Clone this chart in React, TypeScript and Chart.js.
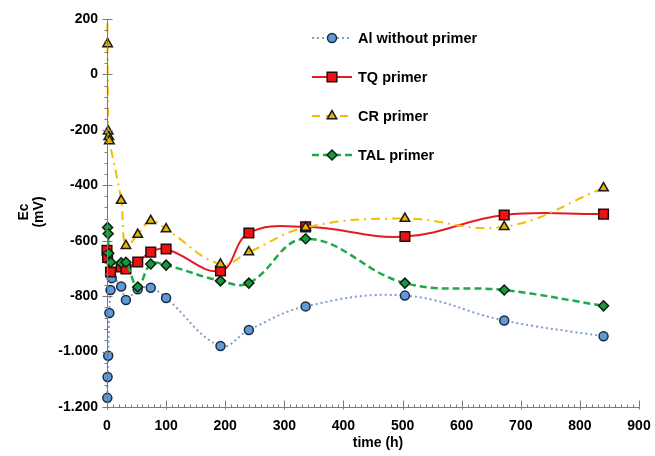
import React, { useEffect, useRef } from 'react';
import { Chart, registerables } from 'chart.js';
import { drawPoint } from 'chart.js/helpers';

Chart.register(...registerables);

// ---- data ----
const seriesLabels = ['Al without primer', 'TQ primer', 'CR primer', 'TAL primer'];

const alTimes = [0.5, 1, 2, 4, 6, 8, 24, 32, 52, 74, 100, 192, 240, 336, 504, 672, 840];
const alValues = [-1167, -1092, -1015, -861, -778, -735, -765, -814, -775, -770, -807, -980, -922, -837, -798, -888, -945];

const tqTimes = [0, 1, 6, 24, 32, 52, 74, 100, 192, 240, 336, 504, 672, 840];
const tqValues = [-635, -660, -713, -695, -702, -677, -641, -630, -709, -572, -550, -585, -507, -504];

const crTimes = [0, 1, 2, 3, 4, 24, 32, 52, 74, 100, 192, 240, 336, 504, 672, 840];
const crValues = [260, 110, -205, -225, -240, -455, -618, -578, -528, -558, -685, -641, -552, -520, -550, -410];

const talTimes = [1, 2, 3, 6, 24, 32, 52, 74, 100, 192, 240, 336, 504, 672, 840];
const talValues = [-552, -575, -645, -678, -680, -678, -767, -684, -688, -745, -753, -593, -753, -778, -835];

const xTitle = 'time (h)';
const yTitleLines = ['Ec', '(mV)'];
const xMin = 0, xMax = 900, xStep = 100, xMinorStep = 10;
const yMin = -1200, yMax = 200, yStep = 200, yMinorStep = 40;

const FONT = 'Arial, "Liberation Sans", sans-serif';

const fmt = (v: number) => {
  const s = Math.abs(v).toString().replace(/\B(?=(\d{3})+(?!\d))/g, '.');
  return (v < 0 ? '-' : '') + s;
};

const toPts = (ts: number[], vs: number[]) => ts.map((t, i) => ({ x: t, y: vs[i] }));

const decor = {
  id: 'decor',
  afterDraw(chart: any) {
    const { ctx, scales } = chart;
    const x = scales.x, y = scales.y;
    ctx.save();
    ctx.strokeStyle = '#7a7a7a';
    ctx.lineWidth = 1;
    const ax = Math.round(x.getPixelForValue(xMin)) + 0.5;
    const ay = Math.round(y.getPixelForValue(yMin)) + 0.5;
    const yTop = y.getPixelForValue(yMax);
    const xRight = x.getPixelForValue(xMax);
    ctx.beginPath();
    ctx.moveTo(ax, yTop);
    ctx.lineTo(ax, ay);
    ctx.moveTo(ax, ay);
    ctx.lineTo(xRight, ay);
    for (let v = yMin; v <= yMax; v += yMinorStep) {
      const py = Math.round(y.getPixelForValue(v)) + 0.5;
      const major = (v - yMin) % yStep === 0;
      ctx.moveTo(ax - (major ? 5 : 3), py);
      ctx.lineTo(ax + (major ? 5 : 0), py);
    }
    for (let t = xMin; t <= xMax; t += xMinorStep) {
      const px = Math.round(x.getPixelForValue(t)) + 0.5;
      const major = (t - xMin) % xStep === 0;
      ctx.moveTo(px, ay + (major ? 2 : 0));
      ctx.lineTo(px, ay - (major ? 7 : 3));
    }
    ctx.stroke();

    ctx.fillStyle = '#000';
    ctx.font = 'bold 14px ' + FONT;
    ctx.textAlign = 'center';
    ctx.textBaseline = 'middle';
    ctx.fillText(xTitle, 378, 443);
    ctx.save();
    ctx.translate(24, 212);
    ctx.rotate(-Math.PI / 2);
    ctx.fillText(yTitleLines[0], 0, 0);
    ctx.restore();
    ctx.save();
    ctx.translate(39, 212);
    ctx.rotate(-Math.PI / 2);
    ctx.fillText(yTitleLines[1], 0, 0);
    ctx.restore();

    const lx0 = 312, lx1 = 352, lmx = 332, ltx = 358;
    const lys = [38, 77, 116, 155];
    chart.data.datasets.forEach((ds: any, i: number) => {
      const ly = lys[i];
      ctx.save();
      ctx.strokeStyle = ds.borderColor;
      ctx.lineWidth = ds.borderWidth;
      ctx.setLineDash(ds.legendDash || ds.borderDash || []);
      ctx.beginPath();
      ctx.moveTo(lx0, ly);
      ctx.lineTo(lx1, ly);
      ctx.stroke();
      ctx.setLineDash([]);
      ctx.fillStyle = ds.pointBackgroundColor;
      ctx.strokeStyle = ds.pointBorderColor;
      ctx.lineWidth = ds.pointBorderWidth;
      drawPoint(ctx, { pointStyle: ds.pointStyle, rotation: 0, radius: ds.pointRadius, borderWidth: ds.pointBorderWidth }, lmx, ly);
      ctx.restore();
      ctx.fillStyle = '#000';
      ctx.font = 'bold 14.5px ' + FONT;
      ctx.textAlign = 'left';
      ctx.textBaseline = 'middle';
      ctx.fillText(ds.label, ltx, ly + 1);
    });
    ctx.restore();
  },
};

export default function App() {
  const ref = useRef<HTMLCanvasElement | null>(null);
  useEffect(() => {
    if (!ref.current) return;
    const clip = { left: 8, right: 8, top: 0, bottom: 8 };
    const chart = new Chart(ref.current, {
      type: 'line',
      data: {
        datasets: [
          {
            label: seriesLabels[0],
            data: toPts(alTimes, alValues),
            borderColor: '#7f9fc6',
            borderWidth: 2,
            borderDash: [2, 3],
            pointStyle: 'circle',
            pointRadius: 4.5,
            pointBackgroundColor: '#5f9ad6',
            pointBorderColor: '#1c2b45',
            pointBorderWidth: 1.5,
            tension: 0.4,
            order: 3,
            clip,
          } as any,
          {
            label: seriesLabels[1],
            data: toPts(tqTimes, tqValues),
            borderColor: '#e31b23',
            borderWidth: 2,
            borderDash: [],
            pointStyle: 'rect',
            pointRadius: 6.8,
            pointBackgroundColor: '#ee1111',
            pointBorderColor: '#2a0a0a',
            pointBorderWidth: 1.5,
            tension: 0.4,
            order: 2,
            clip,
          },
          {
            label: seriesLabels[2],
            data: toPts(crTimes, crValues),
            borderColor: '#f2bf00',
            borderWidth: 2,
            borderDash: [9, 5, 2, 5],
            legendDash: [8, 6],
            pointStyle: 'triangle',
            pointRadius: 5.5,
            pointBackgroundColor: '#e8b400',
            pointBorderColor: '#1a1a1a',
            pointBorderWidth: 1.5,
            tension: 0.4,
            order: 1,
            clip,
          },
          {
            label: seriesLabels[3],
            data: toPts(talTimes, talValues),
            borderColor: '#1fa84c',
            borderWidth: 2.5,
            borderDash: [7, 4],
            pointStyle: 'rectRot',
            pointRadius: 5,
            pointBackgroundColor: '#159a3c',
            pointBorderColor: '#0f1f12',
            pointBorderWidth: 1.5,
            tension: 0.4,
            order: 0,
            clip,
          },
        ],
      },
      options: {
        animation: false,
        responsive: true,
        maintainAspectRatio: false,
        layout: { padding: { top: 19, right: 16, bottom: 0, left: 0 } },
        plugins: { legend: { display: false }, tooltip: { enabled: false } },
        scales: {
          x: {
            type: 'linear',
            min: xMin,
            max: xMax,
            grid: { display: false, drawTicks: false },
            border: { display: false },
            ticks: { stepSize: xStep, padding: 11, color: '#000', font: { family: FONT, size: 14, weight: 'bold' }, maxRotation: 0 },
            afterFit: (s: any) => { s.height = 49; s.paddingLeft = 0; s.paddingRight = 0; },
          },
          y: {
            type: 'linear',
            min: yMin,
            max: yMax,
            grid: { display: false, drawTicks: false },
            border: { display: false },
            ticks: { stepSize: yStep, padding: 9, color: '#000', font: { family: FONT, size: 14, weight: 'bold' }, callback: (v: any) => fmt(Number(v)) },
            afterFit: (s: any) => { s.width = 107; s.paddingTop = 0; s.paddingBottom = 0; },
          },
        },
      },
      plugins: [decor],
    } as any);
    return () => chart.destroy();
  }, []);
  return (
    <div style={{ position: 'absolute', left: 0, top: 0, width: 655, height: 456, background: '#fff' }}>
      <canvas ref={ref} />
    </div>
  );
}
